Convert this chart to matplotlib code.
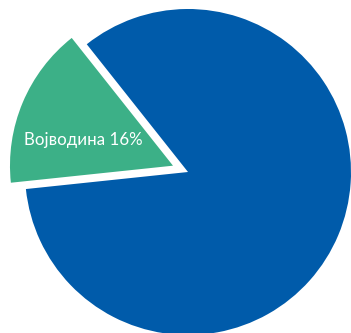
import matplotlib.pyplot as plt

# data
regions = ['Војводина', 'Остатак']
shares = [16, 84]
colors = ['#3CB087', '#005BAA']
explode = [0.1, 0]

plt.rcParams['font.family'] = ['Lato', 'DejaVu Sans']

fig = plt.figure(figsize=(3.51, 3.33), dpi=100)
ax = fig.add_axes([0, 0, 1, 1])

wedges, _ = ax.pie(shares, colors=colors, explode=explode,
                   startangle=128.4, counterclock=True, radius=1.0)

# green slice label
ax.text(-0.640, 0.196, f'{regions[0]} {shares[0]}%', color='white',
        fontsize=12.2, ha='center', va='center')

ax.set_aspect('auto')
ax.set_xlim(-1.1534, 1.0)
ax.set_ylim(-0.9877, 1.0552)
ax.axis('off')

fig.savefig('out.png', dpi=100)
